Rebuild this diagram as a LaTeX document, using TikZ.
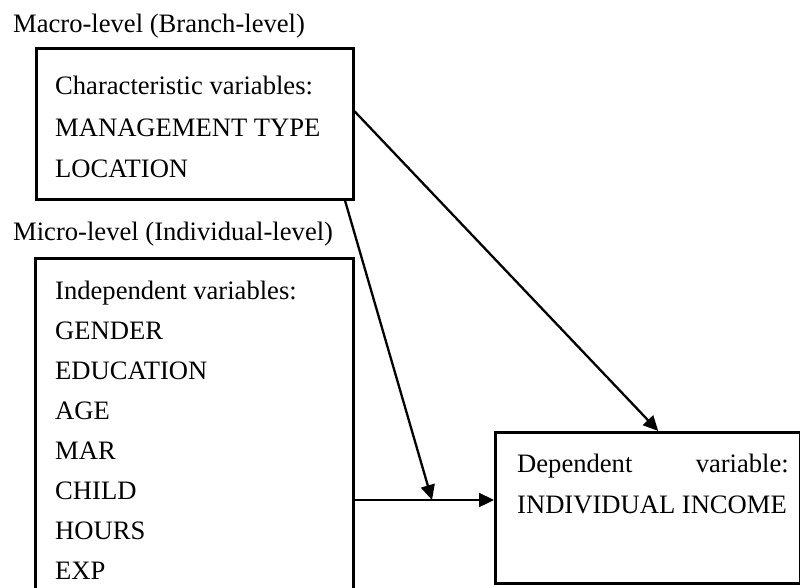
\documentclass[tikz,border=0pt]{standalone}
\usepackage{fontspec}
\setmainfont{Liberation Serif}
\usetikzlibrary{arrows.meta}
\begin{document}
\begin{tikzpicture}[x=1pt,y=-1pt,
  txt/.style={anchor=base west,inner sep=0pt,font=\fontsize{26.6}{30}\selectfont},
  txtr/.style={anchor=base east,inner sep=0pt,font=\fontsize{26.6}{30}\selectfont},
  box/.style={draw,line width=2.5pt,inner sep=0pt,anchor=north west},
  arr/.style={line width=2.3pt,-{Triangle[length=15pt,width=14pt]}}]
\useasboundingbox (0,0) rectangle (800,587);
% boxes
\node[box,minimum width=317pt,minimum height=151pt] (macro) at (35,47) {};
\node[box,minimum width=318pt,minimum height=345pt] (micro) at (34,257) {};
\node[box,minimum width=305pt,minimum height=151pt] (dep) at (494,431) {};
% titles
\node[txt] (t1) at (13,32) {Macro-level (Branch-level)};
\node[txt] (t2) at (13,240) {Micro-level (Individual-level)};
% macro texts
\node[txt] (m1) at (55,94) {Characteristic variables:};
\node[txt] (m2) at (55,136) {MANAGEMENT TYPE};
\node[txt] (m3) at (55,177) {LOCATION};
% micro texts
\node[txt] (i1) at (55,299) {Independent variables:};
\node[txt] (i2) at (55,339) {GENDER};
\node[txt] (i3) at (55,379) {EDUCATION};
\node[txt] (i4) at (55,419) {AGE};
\node[txt] (i5) at (55,459) {MAR};
\node[txt] (i6) at (55,499) {CHILD};
\node[txt] (i7) at (55,539) {HOURS};
\node[txt] (i8) at (55,579) {EXP};
% dependent texts
\node[txt] (d1) at (517,472) {Dependent};
\node[txtr] (d2) at (789,472) {variable:};
\node[txt] (d3) at (517,513) {INDIVIDUAL INCOME};
% connectors
\coordinate (j) at (432,500);
\draw[arr] (micro.east |- j) -- (dep.west |- j);
\draw[arr] ([xshift=-9.5pt]macro.south east) -- (j);
\draw[arr] ([yshift=12.5pt]macro.east) -- ([xshift=10.5pt]dep.north);
\end{tikzpicture}
\end{document}
